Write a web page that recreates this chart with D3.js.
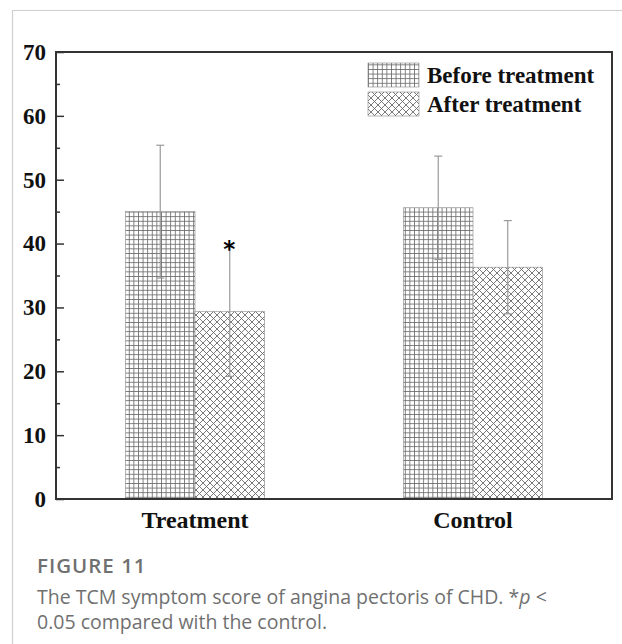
<!DOCTYPE html>
<html>
<head>
<meta charset="utf-8">
<script src="https://cdn.jsdelivr.net/npm/d3@7"></script>
<style>
  html, body { margin: 0; padding: 0; background: #fff; }
  svg { display: block; }
</style>
</head>
<body>
<svg id="chart" width="622" height="644"></svg>
<script>
// Groups, series and their values (mean and SD of the TCM symptom score)
const groups = ["Treatment", "Control"];
const series = ["Before treatment", "After treatment"];
const beforeMeans = [45.0, 45.6];
const beforeSD = [10.4, 8.1];
const afterMeans = [29.4, 36.3];
const afterSD = [10.2, 7.3];
const significance = ["*", ""];   // marker above the "after" bar per group
const yTicks = [0, 10, 20, 30, 40, 50, 60, 70];
const yMinorTicks = [5, 15, 25, 35, 45, 55, 65];

const rows = [];
groups.forEach((g, i) => {
  rows.push({ group: g, series: series[0], mean: beforeMeans[i], sd: beforeSD[i], mark: "" });
  rows.push({ group: g, series: series[1], mean: afterMeans[i], sd: afterSD[i], mark: significance[i] });
});

const svg = d3.select("#chart");
const plot = { left: 56, right: 612, top: 52, bottom: 499 };
const serif = "'Liberation Serif', 'Times New Roman', serif";

// Page frame lines
svg.append("line").attr("x1", 12).attr("x2", 622).attr("y1", 10.5).attr("y2", 10.5)
  .attr("stroke", "#cfcfcf").attr("stroke-width", 1.2);
svg.append("line").attr("x1", 12.5).attr("x2", 12.5).attr("y1", 10).attr("y2", 644)
  .attr("stroke", "#cfcfcf").attr("stroke-width", 1.2);

// Fill patterns
const defs = svg.append("defs");
const grid = defs.append("pattern").attr("id", "gridFill")
  .attr("patternUnits", "userSpaceOnUse").attr("width", 4.6).attr("height", 4.6);
grid.append("rect").attr("width", 4.6).attr("height", 4.6).attr("fill", "#fff");
grid.append("path").attr("d", "M0,0.4H4.6M0.4,0V4.6")
  .attr("stroke", "#6a6a6a").attr("stroke-width", 0.9).attr("fill", "none");

const cross = defs.append("pattern").attr("id", "crossFill")
  .attr("patternUnits", "userSpaceOnUse").attr("width", 7).attr("height", 7);
cross.append("rect").attr("width", 7).attr("height", 7).attr("fill", "#fff");
cross.append("path").attr("d", "M0,0L7,7M7,0L0,7")
  .attr("stroke", "#6a6a6a").attr("stroke-width", 0.9).attr("fill", "none");

const fills = { "Before treatment": "url(#gridFill)", "After treatment": "url(#crossFill)" };

// Scales
const x = d3.scaleBand().domain(groups).range([plot.left, plot.right])
  .paddingInner(0.5).paddingOuter(0.25);
const xs = d3.scaleBand().domain(series).range([0, x.bandwidth()]);
const y = d3.scaleLinear().domain([0, 70]).range([plot.bottom, plot.top]);

// Bars
const barG = svg.append("g");
barG.selectAll("rect").data(rows).join("rect")
  .attr("x", d => x(d.group) + xs(d.series))
  .attr("y", d => y(d.mean))
  .attr("width", xs.bandwidth())
  .attr("height", d => y(0) - y(d.mean))
  .attr("fill", d => fills[d.series])
  .attr("stroke", "#888").attr("stroke-width", 0.6);

// Error bars
const errG = svg.append("g").attr("stroke", "#9a9a9a").attr("stroke-width", 1.2);
rows.forEach(d => {
  const cx = x(d.group) + xs(d.series) + xs.bandwidth() / 2;
  const y1 = y(d.mean + d.sd), y2 = y(d.mean - d.sd);
  errG.append("line").attr("x1", cx).attr("x2", cx).attr("y1", y1).attr("y2", y2);
  errG.append("line").attr("x1", cx - 4).attr("x2", cx + 4).attr("y1", y1).attr("y2", y1);
  errG.append("line").attr("x1", cx - 4).attr("x2", cx + 4).attr("y1", y2).attr("y2", y2);
  if (d.mark) {
    svg.append("text").attr("x", cx - 0.5).attr("y", y1 + 11)
      .attr("text-anchor", "middle")
      .attr("font-family", "'DejaVu Sans', sans-serif").attr("font-weight", "bold")
      .attr("font-size", 23).attr("fill", "#000").text(d.mark);
  }
});

// Plot frame
svg.append("rect").attr("x", plot.left).attr("y", plot.top)
  .attr("width", plot.right - plot.left).attr("height", plot.bottom - plot.top)
  .attr("fill", "none").attr("stroke", "#333").attr("stroke-width", 2);

// Y axis: major ticks inward with labels, minor ticks inward
const yAxis = d3.axisLeft(y).tickValues(yTicks).tickSizeInner(-8).tickSizeOuter(0).tickPadding(10)
  .tickFormat(d3.format("d"));
const ya = svg.append("g").attr("transform", `translate(${plot.left},0)`).call(yAxis);
ya.select(".domain").remove();
ya.selectAll(".tick line").attr("stroke", "#333").attr("stroke-width", 1.5);
ya.selectAll(".tick text")
  .attr("font-family", serif)
  .attr("font-weight", "bold").attr("font-size", 23).attr("fill", "#111");
const yMinor = d3.axisLeft(y).tickValues(yMinorTicks).tickSizeInner(-4).tickSizeOuter(0).tickFormat("");
const ym = svg.append("g").attr("transform", `translate(${plot.left},0)`).call(yMinor);
ym.select(".domain").remove();
ym.selectAll(".tick line").attr("stroke", "#333").attr("stroke-width", 1.5);

// X axis labels
const xAxis = d3.axisBottom(x).tickSize(0).tickPadding(12);
const xa = svg.append("g").attr("transform", `translate(0,${plot.bottom})`).call(xAxis);
xa.select(".domain").remove();
xa.selectAll(".tick text")
  .attr("font-family", serif)
  .attr("font-weight", "bold").attr("font-size", 24).attr("fill", "#111");

// Legend
const legend = svg.append("g");
series.forEach((s, i) => {
  const ly = 63 + i * 29;
  legend.append("rect").attr("x", 368).attr("y", ly).attr("width", 51).attr("height", 24)
    .attr("fill", fills[s]).attr("stroke", "#888").attr("stroke-width", 0.6);
  legend.append("text").attr("x", 427).attr("y", ly + 20)
    .attr("font-family", serif)
    .attr("font-weight", "bold").attr("font-size", 23).attr("fill", "#111").text(s);
});

// Caption
const cap = svg.append("g").attr("font-family", "'Open Sans', sans-serif").attr("fill", "#707070");
cap.append("text").attr("x", 37).attr("y", 573).attr("font-size", 20.5).attr("font-weight", 600)
  .attr("letter-spacing", 1).text("FIGURE 11");
const line1 = cap.append("text").attr("x", 37).attr("y", 604).attr("font-size", 19.5);
line1.append("tspan").text("The TCM symptom score of angina pectoris of CHD. *");
line1.append("tspan").attr("font-style", "italic").text("p");
line1.append("tspan").text(" <");
cap.append("text").attr("x", 37).attr("y", 629).attr("font-size", 19.5)
  .text("0.05 compared with the control.");
</script>
</body>
</html>
